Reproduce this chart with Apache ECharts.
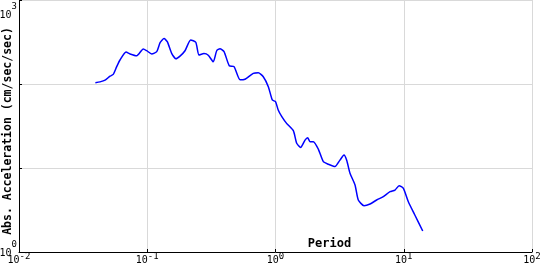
<!DOCTYPE html>
<html>
<head>
<meta charset="utf-8">
<script src="https://cdn.jsdelivr.net/npm/echarts@6/dist/echarts.min.js"></script>
<style>html,body{margin:0;padding:0;background:#fff}#c{width:540px;height:270px}</style>
</head>
<body>
<div id="c"></div>
<script>
const periods = [0.0394,0.0428,0.0469,0.0513,0.0543,0.0578,0.0613,0.0683,0.0734,0.0828,0.0931,0.099,0.1084,0.1186,0.1259,0.1352,0.1433,0.155,0.1675,0.18,0.197,0.218,0.239,0.2533,0.277,0.299,0.327,0.348,0.369,0.397,0.436,0.475,0.529,0.578,0.671,0.734,0.803,0.879,0.944,1.0,1.05,1.12,1.22,1.377,1.463,1.571,1.699,1.782,1.858,1.973,2.16,2.36,2.58,2.91,3.18,3.42,3.59,3.81,4.17,4.42,4.9,5.46,6.15,6.93,7.82,8.55,9.2,9.93,10.86,12.2,14.06];
const accel = [103.6,106,111,124,130,161,193,240,228,217,261,249,228,243,310,347,319,232,200,215,249,334,314,221,230,220,184,249,263,243,165,161,112,114,134,136,122,93,64.6,61.6,49,40.8,34,27.8,19.7,17.6,21.5,22.9,20.6,20.6,16.7,11.9,11.1,10.4,12.4,14.3,12.4,8.65,6.28,4.16,3.56,3.73,4.16,4.56,5.22,5.47,6.15,5.73,3.97,2.76,1.78];
const xRange = [0.01, 100];
const yRange = [1, 1000];
const yLabelsShown = [1, 1000];
const xName = 'Period';
const yName = 'Abs. Acceleration (cm/sec/sec)';

const mono = 'DejaVu Sans Mono';
const B = {fontFamily: mono, fontSize: 10, color: '#000', lineHeight: 4};
const S = {fontFamily: mono, fontSize: 9, color: '#000', lineHeight: 9};
const rich = {
  xb: Object.assign({}, B, {padding: [8, 0, 4, 0]}),
  xs: Object.assign({}, S, {padding: [2, 0, 5, 0]}),
  tb: Object.assign({}, B, {padding: [31, 0, 1, 0]}),
  ts: Object.assign({}, S, {padding: [20.5, 0, 6.5, 0]}),
  mb: Object.assign({}, B, {padding: [17, 0, 15, 0]}),
  ms: Object.assign({}, S, {padding: [6.5, 0, 20.5, 0]})
};
const pow = (v, k) => '{' + k + 'b|10}{' + k + 's|' + Math.round(Math.log10(v)) + '}';

const chart = echarts.init(document.getElementById('c'), null, {renderer: 'canvas'});
chart.setOption({
  animation: false,
  grid: {left: 19, right: 8, top: 0, bottom: 18, containLabel: false, outerBoundsMode: 'none'},
  xAxis: {
    type: 'log', logBase: 10, min: xRange[0], max: xRange[1],
    name: xName, nameLocation: 'middle', nameGap: -14, nameMoveOverlap: false,
    nameTextStyle: {fontFamily: mono, fontWeight: 'bold', fontSize: 12, color: '#000', padding: [0, 0, 0, 108]},
    axisLine: {lineStyle: {color: '#000', width: 1}},
    axisTick: {inside: true, length: 3, lineStyle: {color: '#000'}},
    minorTick: {show: false},
    splitLine: {show: true, lineStyle: {color: '#d9d9d9', width: 1}},
    axisLabel: {formatter: v => pow(v, 'x'), rich: rich, margin: 2, showMinLabel: true, showMaxLabel: true, hideOverlap: false}
  },
  yAxis: {
    type: 'log', logBase: 10, min: yRange[0], max: yRange[1],
    name: yName, nameLocation: 'middle', nameGap: 5, nameMoveOverlap: false,
    nameTextStyle: {fontFamily: mono, fontWeight: 'bold', fontSize: 11.5, color: '#000', padding: [0, 10, 0, 0]},
    axisLine: {show: true, lineStyle: {color: '#000', width: 1}},
    axisTick: {show: true, inside: true, length: 3, lineStyle: {color: '#000'}},
    splitLine: {show: true, lineStyle: {color: '#d9d9d9', width: 1}},
    axisLabel: {
      formatter: v => {
        if (!yLabelsShown.some(s => Math.abs(s - v) < 1e-6 * s)) return '';
        return pow(v, Math.abs(v - yRange[0]) < 1e-9 ? 'm' : 't');
      },
      rich: rich, margin: 2, verticalAlign: 'middle', showMinLabel: true, showMaxLabel: true, hideOverlap: false
    }
  },
  series: [{
    type: 'line', showSymbol: false, smooth: 0.2,
    data: periods.map((p, i) => [p, accel[i]]),
    lineStyle: {color: '#0000ff', width: 1.5}
  }]
});
</script>
</body>
</html>
